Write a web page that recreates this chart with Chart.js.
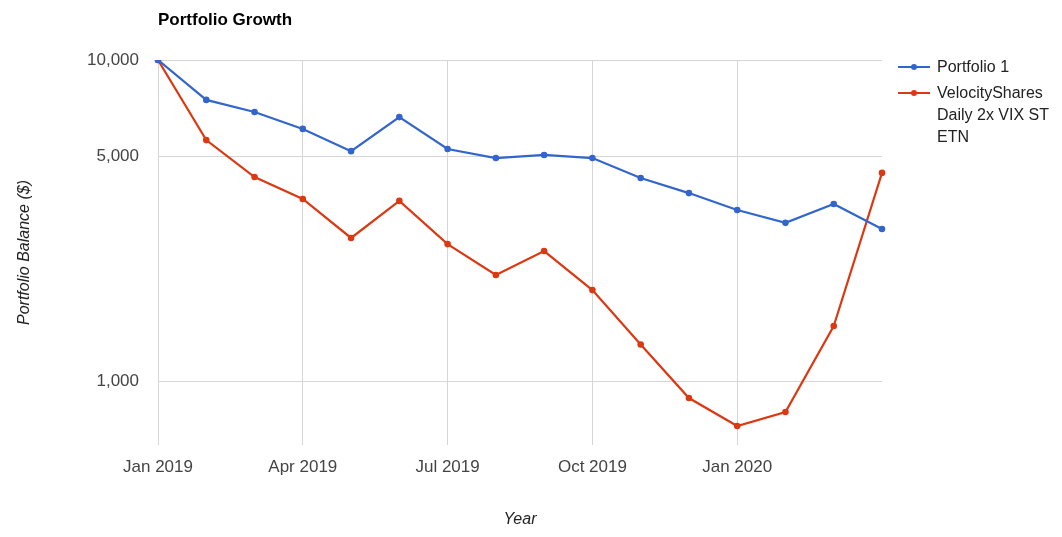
<!DOCTYPE html>
<html>
<head>
<meta charset="utf-8">
<script src="https://cdn.jsdelivr.net/npm/chart.js@4/dist/chart.umd.min.js"></script>
<style>
  body { margin: 0; background: #fff; font-family: "Liberation Sans", Arial, sans-serif; }
  #wrap { position: relative; width: 1062px; height: 537px; }
  #titulo { position: absolute; left: 158px; top: 10px; font-size: 17px; font-weight: bold; color: #000; }
  #leyenda { position: absolute; left: 898px; top: 56px; width: 160px; font-size: 16px; color: #222; }
  .item { display: flex; align-items: flex-start; margin-bottom: 4px; line-height: 22px; }
  .muestra { position: relative; width: 32px; height: 22px; margin-right: 7px; flex: none; }
  .muestra .l { position: absolute; left: 0; top: 10px; width: 32px; height: 2px; }
  .muestra .p { position: absolute; left: 13px; top: 8px; width: 6px; height: 6px; border-radius: 3px; }
  .txt { width: 118px; }
</style>
</head>
<body>
<div id="wrap">
  <canvas id="grafico" width="1062" height="537"></canvas>
  <div id="titulo">Portfolio Growth</div>
  <div id="leyenda"></div>
</div>
<script>
var meses = ['Jan 2019','Feb 2019','Mar 2019','Apr 2019','May 2019','Jun 2019','Jul 2019','Aug 2019',
  'Sep 2019','Oct 2019','Nov 2019','Dec 2019','Jan 2020','Feb 2020','Mar 2020','Apr 2020'];
var portafolio1 = [10000, 7510, 6890, 6100, 5200, 6640, 5280, 4950, 5060, 4950, 4290, 3850, 3410, 3110, 3560, 2975];
var velocity = [10000, 5630, 4320, 3690, 2790, 3640, 2670, 2140, 2540, 1920, 1300, 885, 724, 801, 1484, 4450];
var etiquetasX = ['Jan 2019','Apr 2019','Jul 2019','Oct 2019','Jan 2020'];
var ticksY = [1000, 5000, 10000];
var nombres = ['Portfolio 1', 'VelocityShares Daily 2x VIX ST ETN'];
var colores = ['#3366cc', '#dc3912'];

// leyenda en html para que el texto se parta en varias lineas
var ley = document.getElementById('leyenda');
nombres.forEach(function(n, i){
  ley.innerHTML += '<div class="item"><div class="muestra"><div class="l" style="background:' + colores[i] +
    '"></div><div class="p" style="background:' + colores[i] + '"></div></div><div class="txt">' + n + '</div></div>';
});

var datos = {
  type: 'line',
  data: {
    labels: meses,
    datasets: [{
      label: nombres[0],
      data: portafolio1,
      borderColor: colores[0],
      backgroundColor: colores[0],
      borderWidth: 2.2,
      pointRadius: 2.2,
      pointHoverRadius: 3,
      tension: 0
    }, {
      label: nombres[1],
      data: velocity,
      borderColor: colores[1],
      backgroundColor: colores[1],
      borderWidth: 2.2,
      pointRadius: 2.2,
      pointHoverRadius: 3,
      tension: 0
    }]
  },
  options: {
    responsive: false,
    animation: false,
    layout: { padding: { top: 60, right: 180, left: 0, bottom: 0 } },
    plugins: { legend: { display: false }, title: { display: false }, tooltip: { enabled: false } },
    scales: {
      x: {
        type: 'category',
        offset: false,
        border: { display: false },
        grid: {
          drawTicks: false,
          lineWidth: 1,
          color: function(ctx){
            return etiquetasX.indexOf(meses[ctx.index]) >= 0 ? '#d6d6d6' : 'rgba(0,0,0,0)';
          }
        },
        ticks: {
          autoSkip: false,
          maxRotation: 0,
          padding: 12,
          color: '#444',
          font: { family: '"Liberation Sans", Arial', size: 17 },
          callback: function(v, i){
            return etiquetasX.indexOf(meses[i]) >= 0 ? meses[i] : '';
          }
        },
        title: {
          display: true,
          text: 'Year',
          color: '#222',
          padding: { top: 0, bottom: 8 },
          font: { family: '"Liberation Sans", Arial', size: 16, style: 'italic' }
        },
        afterFit: function(s){ s.height = 92; }
      },
      y: {
        type: 'logarithmic',
        min: 632,
        max: 10000,
        border: { display: false },
        grid: { drawTicks: false, color: '#d6d6d6' },
        afterBuildTicks: function(s){
          s.ticks = ticksY.map(function(v){ return { value: v }; });
        },
        ticks: {
          padding: 19,
          color: '#444',
          font: { family: '"Liberation Sans", Arial', size: 17 },
          callback: function(v){ return Number(v).toLocaleString('en-US'); }
        },
        title: {
          display: true,
          text: 'Portfolio Balance ($)',
          color: '#222',
          padding: { top: 15, bottom: 0 },
          font: { family: '"Liberation Sans", Arial', size: 16, style: 'italic' }
        },
        afterFit: function(s){ s.width = 158; }
      }
    }
  }
};

var ctx = document.getElementById('grafico').getContext('2d');
window.grafico = new Chart(ctx, datos);
</script>
</body>
</html>
